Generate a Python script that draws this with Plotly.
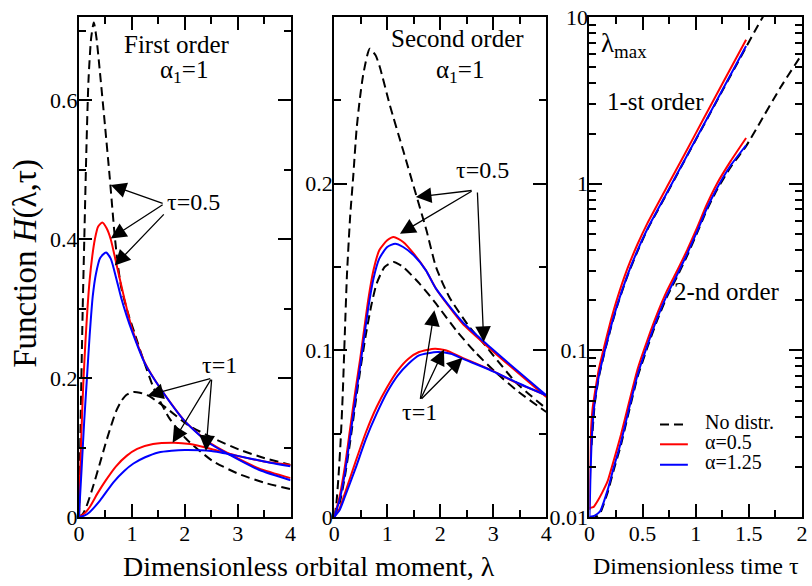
import plotly.graph_objects as go

SERIF = "Liberation Serif"
RED, BLUE, BLACK = "#ff0000", "#0000ff", "#000000"
DASH = "9px,5px"

# ---------------- Panel 1: first order, alpha_1 = 1 ----------------
p1_lam_nd05 = [0, 0.02, 0.04, 0.07, 0.10, 0.14, 0.18, 0.23, 0.28, 0.33, 0.39, 0.49, 0.58, 0.675, 0.74, 0.80,
               0.92, 1.05, 1.21, 1.41, 1.71, 2.02, 2.52, 3.02, 3.52, 4.0]
p1_H_nd05 = [0, 0.09, 0.18, 0.30, 0.40, 0.53, 0.63, 0.69, 0.712, 0.69, 0.645, 0.565, 0.49, 0.405, 0.36, 0.33,
             0.295, 0.265, 0.228, 0.186, 0.142, 0.113, 0.081, 0.062, 0.049, 0.040]
p1_lam_r05 = [0, 0.01, 0.02, 0.05, 0.08, 0.12, 0.16, 0.2, 0.25, 0.3, 0.36, 0.44, 0.52, 0.6, 0.72, 0.85, 1.0,
              1.24, 1.54, 2.0, 2.43, 2.86, 3.4, 4.0]
p1_H_r05 = [0, 0.035, 0.06, 0.13, 0.19, 0.25, 0.30, 0.34, 0.375, 0.40, 0.418, 0.424, 0.416, 0.40, 0.36, 0.317,
            0.272, 0.223, 0.185, 0.138, 0.109, 0.090, 0.070, 0.056]
p1_lam_b05 = [0, 0.02, 0.05, 0.1, 0.15, 0.2, 0.26, 0.32, 0.4, 0.51, 0.6, 0.7, 0.8, 0.9, 1.0, 1.24, 1.54, 2.0,
              2.43, 2.86, 3.4, 4.0]
p1_H_b05 = [0, 0.03, 0.07, 0.14, 0.20, 0.26, 0.318, 0.35, 0.373, 0.381, 0.372, 0.345, 0.315, 0.29, 0.268, 0.222,
            0.185, 0.138, 0.108, 0.089, 0.068, 0.053]
p1_lam_nd1 = [0, 0.07, 0.14, 0.25, 0.39, 0.5, 0.58, 0.7, 0.8, 0.9, 1.03, 1.15, 1.33, 1.5, 1.65, 2.05, 2.55,
              3.03, 3.5, 4.0]
p1_H_nd1 = [0, 0.004, 0.015, 0.04, 0.076, 0.105, 0.125, 0.152, 0.167, 0.176, 0.18, 0.179, 0.174, 0.165, 0.157,
            0.133, 0.113, 0.097, 0.085, 0.075]
p1_lam_r1 = [0, 0.1, 0.2, 0.35, 0.5, 0.7, 0.9, 1.1, 1.4, 1.8, 2.1, 2.5, 3.0, 3.5, 4.0]
p1_H_r1 = [0, 0.005, 0.014, 0.034, 0.052, 0.073, 0.088, 0.098, 0.105, 0.107, 0.105, 0.098, 0.088, 0.080, 0.075]
p1_lam_b1 = [0, 0.1, 0.2, 0.4, 0.65, 0.85, 1.03, 1.25, 1.5, 1.75, 2.0, 2.5, 3.0, 3.5, 4.0]
p1_H_b1 = [0, 0.002, 0.007, 0.024, 0.05, 0.066, 0.077, 0.086, 0.093, 0.0955, 0.0965, 0.095, 0.088, 0.080, 0.073]

# ---------------- Panel 2: second order, alpha_1 = 1 ----------------
p2_lam_nd05 = [0, 0.04, 0.08, 0.12, 0.16, 0.2, 0.24, 0.3, 0.36, 0.42, 0.48, 0.55, 0.67, 0.78, 0.86, 1.05, 1.3,
               1.52, 1.74, 1.92, 2.17, 2.55, 2.85, 3.0, 3.42, 4.0]
p2_H_nd05 = [0, 0.008, 0.024, 0.045, 0.073, 0.11, 0.145, 0.18, 0.205, 0.232, 0.25, 0.266, 0.281, 0.277, 0.27,
             0.247, 0.220, 0.196, 0.172, 0.150, 0.132, 0.114, 0.103, 0.097, 0.081, 0.065]
p2_lam_nd1 = [0, 0.1, 0.2, 0.3, 0.4, 0.5, 0.6, 0.7, 0.8, 0.95, 1.12, 1.3, 1.61, 1.92, 2.3, 2.67, 3.05, 3.48, 4.0]
p2_H_nd1 = [0, 0.008, 0.024, 0.045, 0.068, 0.09, 0.11, 0.127, 0.14, 0.15, 0.153, 0.15, 0.140, 0.128, 0.112,
            0.0985, 0.0867, 0.075, 0.063]
p2_lam_r05 = [0, 0.1, 0.2, 0.3, 0.4, 0.49, 0.64, 0.74, 0.85, 1.0, 1.12, 1.3, 1.5, 1.73, 1.92, 2.42, 2.83, 3.3, 4.0]
p2_H_r05 = [0, 0.012, 0.03, 0.053, 0.076, 0.095, 0.13, 0.148, 0.16, 0.166, 0.168, 0.165, 0.158, 0.148, 0.137,
            0.116, 0.104, 0.091, 0.072]
p2_lam_b05 = [0, 0.1, 0.2, 0.3, 0.4, 0.5, 0.64, 0.74, 0.85, 1.0, 1.15, 1.3, 1.5, 1.73, 1.92, 2.42, 2.83, 3.3, 4.0]
p2_H_b05 = [0, 0.01, 0.026, 0.048, 0.071, 0.093, 0.125, 0.143, 0.155, 0.162, 0.164, 0.162, 0.157, 0.148, 0.137,
            0.117, 0.105, 0.092, 0.073]
p2_lam_r1 = [0, 0.1, 0.2, 0.4, 0.6, 0.8, 1.0, 1.2, 1.4, 1.6, 1.9, 2.1, 2.42, 2.92, 3.42, 4.0]
p2_H_r1 = [0, 0.005, 0.014, 0.033, 0.051, 0.066, 0.078, 0.088, 0.095, 0.099, 0.101, 0.100, 0.0955, 0.0887,
           0.0808, 0.073]
p2_lam_b1 = [0, 0.1, 0.2, 0.4, 0.6, 0.8, 1.0, 1.2, 1.4, 1.6, 1.95, 2.2, 2.42, 2.92, 3.42, 4.0]
p2_H_b1 = [0, 0.004, 0.012, 0.029, 0.047, 0.062, 0.075, 0.085, 0.092, 0.097, 0.099, 0.098, 0.095, 0.0885,
           0.081, 0.073]

# ---------------- Panel 3: lambda_max versus time ----------------
r_tau_1st_r = [0, 0.005, 0.01, 0.016, 0.03, 0.047, 0.09, 0.14, 0.2, 0.265, 0.358, 0.45, 0.545, 0.732, 0.888,
               1.075, 1.262, 1.474]
r_lmax_1st_r = [0.011, 0.016, 0.024, 0.034, 0.045, 0.0535, 0.078, 0.106, 0.15, 0.208, 0.31, 0.43, 0.578, 0.964,
                1.47, 2.46, 4.1, 7.31]
r_tau_1st_b = [0, 0.005, 0.01, 0.02, 0.035, 0.05, 0.09, 0.14, 0.2, 0.265, 0.358, 0.45, 0.545, 0.732, 0.888,
               1.075, 1.262, 1.474]
r_lmax_1st_b = [0.010, 0.013, 0.018, 0.028, 0.040, 0.049, 0.071, 0.097, 0.137, 0.19, 0.283, 0.395, 0.535, 0.889,
                1.36, 2.26, 3.76, 6.69]
r_tau_1st_nd = [0.02, 0.05, 0.09, 0.14, 0.2, 0.265, 0.358, 0.45, 0.545, 0.732, 0.888, 1.075, 1.262, 1.474, 1.55,
                1.65]
r_lmax_1st_nd = [0.027, 0.048, 0.070, 0.096, 0.135, 0.188, 0.28, 0.39, 0.53, 0.88, 1.35, 2.24, 3.72, 6.6, 8.1,
                 10.5]
r_tau_2nd_r = [0, 0.04, 0.078, 0.12, 0.171, 0.23, 0.296, 0.37, 0.452, 0.545, 0.638, 0.73, 0.825, 0.92, 1.012,
               1.1, 1.2, 1.33, 1.474]
r_lmax_2nd_r = [0.0113, 0.0115, 0.0125, 0.014, 0.0164, 0.022, 0.031, 0.048, 0.0768, 0.115, 0.166, 0.228, 0.30,
                0.40, 0.543, 0.74, 1.0, 1.37, 1.88]
r_tau_2nd_b = [0, 0.05, 0.1, 0.171, 0.23, 0.296, 0.37, 0.452, 0.545, 0.638, 0.73, 0.825, 0.92, 1.012, 1.1, 1.2,
               1.33, 1.474]
r_lmax_2nd_b = [0.0100, 0.0102, 0.0108, 0.0145, 0.020, 0.028, 0.044, 0.071, 0.107, 0.156, 0.215, 0.284, 0.38,
                0.515, 0.70, 0.94, 1.29, 1.70]
r_tau_2nd_nd = [0, 0.05, 0.1, 0.171, 0.23, 0.296, 0.37, 0.452, 0.545, 0.638, 0.73, 0.825, 0.92, 1.012, 1.1, 1.2,
                1.33, 1.474, 1.6, 1.8, 2.0]
r_lmax_2nd_nd = [0.0098, 0.0099, 0.0105, 0.014, 0.0193, 0.027, 0.0425, 0.069, 0.104, 0.152, 0.21, 0.277, 0.37,
                 0.505, 0.685, 0.92, 1.26, 1.68, 2.3, 3.8, 6.0]

# tick labels
p1_yticks = [0, 0.2, 0.4, 0.6]
p1_ytext = ["0", "0.2", "0.4", "0.6"]
p2_yticks = [0, 0.1, 0.2]
p2_ytext = ["0", "0.1", "0.2"]
lam_ticks = [0, 1, 2, 3, 4]
tau_ticks = [0, 0.5, 1, 1.5, 2]
tau_text = ["0", "0.5", "1", "1.5", "2"]
lmax_ticks = [0.01, 0.1, 1, 10]
lmax_text = ["0.01", "0.1", "1", "10"]
lmax_minor = [m * 10.0 ** e for e in (-2, -1, 0) for m in range(2, 10)]
legend_labels = ["No distr.", "α=0.5", "α=1.25"]

fig = go.Figure()


def add(x, y, color, dash, xa, ya, smooth=0.6):
    fig.add_trace(go.Scatter(x=x, y=y, mode="lines", xaxis=xa, yaxis=ya, showlegend=False, hoverinfo="skip",
                             line=dict(color=color, width=2, dash=dash, shape="spline", smoothing=smooth)))


add(p1_lam_nd05, p1_H_nd05, BLACK, DASH, "x", "y")
add(p1_lam_nd1, p1_H_nd1, BLACK, DASH, "x", "y")
add(p1_lam_r05, p1_H_r05, RED, "solid", "x", "y")
add(p1_lam_r1, p1_H_r1, RED, "solid", "x", "y")
add(p1_lam_b05, p1_H_b05, BLUE, "solid", "x", "y")
add(p1_lam_b1, p1_H_b1, BLUE, "solid", "x", "y")

add(p2_lam_nd05, p2_H_nd05, BLACK, DASH, "x2", "y2")
add(p2_lam_nd1, p2_H_nd1, BLACK, DASH, "x2", "y2")
add(p2_lam_r05, p2_H_r05, RED, "solid", "x2", "y2")
add(p2_lam_r1, p2_H_r1, RED, "solid", "x2", "y2")
add(p2_lam_b05, p2_H_b05, BLUE, "solid", "x2", "y2")
add(p2_lam_b1, p2_H_b1, BLUE, "solid", "x2", "y2")

add(r_tau_1st_nd, r_lmax_1st_nd, BLACK, DASH, "x3", "y3", 0.4)
add(r_tau_2nd_nd, r_lmax_2nd_nd, BLACK, DASH, "x3", "y3", 0.4)
add(r_tau_1st_r, r_lmax_1st_r, RED, "solid", "x3", "y3", 0.4)
add(r_tau_2nd_r, r_lmax_2nd_r, RED, "solid", "x3", "y3", 0.4)
add(r_tau_1st_b, r_lmax_1st_b, BLUE, "solid", "x3", "y3", 0.4)
add(r_tau_2nd_b, r_lmax_2nd_b, BLUE, "solid", "x3", "y3", 0.4)

TF = dict(family=SERIF, size=22, color=BLACK)
common = dict(showline=True, linecolor=BLACK, linewidth=2, mirror="ticks", ticks="inside", ticklen=13,
              tickwidth=1.5, tickcolor=BLACK, showgrid=False, zeroline=False, tickfont=TF,
              ticklabeloverflow="allow")


def minor(**kw):
    d = dict(ticks="inside", ticklen=7, tickwidth=1.5, tickcolor=BLACK, showgrid=False)
    d.update(kw)
    return d


fig.update_layout(
    width=812, height=586, margin=dict(l=79, r=5, t=10, b=69),
    paper_bgcolor="white", plot_bgcolor="white", showlegend=False,
    font=dict(family=SERIF, color=BLACK),
    xaxis=dict(domain=[0, 0.2926], range=[0, 4], anchor="y", tickmode="array", tickvals=lam_ticks,
               minor=minor(dtick=0.5), ticklabelstandoff=-4, **common),
    yaxis=dict(domain=[0, 1], range=[0, 0.72], anchor="x", tickmode="array", tickvals=p1_yticks,
               ticktext=p1_ytext, minor=minor(dtick=0.1), ticklabelstandoff=-5, **common),
    xaxis2=dict(domain=[0.353, 0.6463], range=[0, 4], anchor="y2", tickmode="array", tickvals=lam_ticks,
                minor=minor(dtick=0.5), ticklabelstandoff=-4, **common),
    yaxis2=dict(domain=[0, 1], range=[0, 0.3], anchor="x2", tickmode="array", tickvals=p2_yticks,
                ticktext=p2_ytext, minor=minor(dtick=0.05), ticklabelstandoff=-5, **common),
    xaxis3=dict(domain=[0.706, 1], range=[0, 2], anchor="y3", tickmode="array", tickvals=tau_ticks,
                ticktext=tau_text, minor=minor(dtick=0.25), ticklabelstandoff=-4, **common),
    yaxis3=dict(domain=[0, 1], type="log", range=[-2, 1], anchor="x3", tickmode="array", tickvals=lmax_ticks,
                ticktext=lmax_text, minor=minor(tickmode="array", tickvals=lmax_minor), ticklabelstandoff=-5,
                **common),
)

ann = []


def text(x, y, t, size, xref, yref, xanchor="center", yanchor="middle", **kw):
    ann.append(dict(x=x, y=y, text=t, xref=xref, yref=yref, showarrow=False, xanchor=xanchor, yanchor=yanchor,
                    font=dict(family=SERIF, size=size, color=BLACK), **kw))


def arrow(x, y, ax, ay, xref, yref):
    ann.append(dict(x=x, y=y, ax=ax, ay=ay, xref=xref, yref=yref, axref=xref, ayref=yref, text="",
                    showarrow=True, arrowhead=2, arrowsize=2.4, arrowwidth=1.3, arrowcolor=BLACK, standoff=0,
                    startstandoff=0))


# panel 1 labels
text(1.857, 0.681, "First order", 25, "x", "y")
text(1.99, 0.641, "α<sub>1</sub>=1", 25, "x", "y")
text(2.16, 0.453, "τ=0.5", 24, "x", "y")
arrow(0.60, 0.478, 1.61, 0.451, "x", "y")
arrow(0.60, 0.401, 1.61, 0.451, "x", "y")
arrow(0.675, 0.362, 1.63, 0.438, "x", "y")
text(2.65, 0.219, "τ=1", 24, "x", "y")
arrow(1.30, 0.175, 2.51, 0.200, "x", "y")
arrow(1.77, 0.107, 2.51, 0.200, "x", "y")
arrow(2.40, 0.095, 2.51, 0.200, "x", "y")

# panel 2 labels
text(2.32, 0.287, "Second order", 25, "x2", "y2")
text(2.38, 0.2675, "α<sub>1</sub>=1", 25, "x2", "y2")
text(2.79, 0.208, "τ=0.5", 24, "x2", "y2")
arrow(1.54, 0.192, 2.62, 0.196, "x2", "y2")
arrow(1.24, 0.170, 2.62, 0.196, "x2", "y2")
arrow(2.82, 0.105, 2.70, 0.1956, "x2", "y2")
text(1.61, 0.063, "τ=1", 24, "x2", "y2")
arrow(1.89, 0.124, 1.62, 0.070, "x2", "y2")
arrow(2.07, 0.1005, 1.62, 0.070, "x2", "y2")
arrow(2.42, 0.0956, 1.62, 0.070, "x2", "y2")

# panel 3 labels
text(0.093, 0.835, "λ<sub>max</sub>", 27, "x3", "y3", xanchor="left")
text(0.617, 0.495, "1-st order", 25, "x3", "y3")
text(1.29, -0.648, "2-nd order", 25, "x3", "y3")

# axis titles
text(0.3187, -0.0986, "Dimensionless orbital moment, λ", 28, "paper", "paper")
text(0.853, -0.0986, "Dimensionless time τ", 24, "paper", "paper")
text(-0.0742, 0.507, "Function <i>H</i>(λ,τ)", 33, "paper", "paper", textangle=-90)

# manual legend in panel 3
leg_rows = [0.1848, 0.1454, 0.1045]
leg_colors = [BLACK, RED, BLUE]
leg_dash = [DASH, "solid", "solid"]
shapes = []
for yy, lab, col, ds in zip(leg_rows, legend_labels, leg_colors, leg_dash):
    shapes.append(dict(type="line", xref="x3 domain", yref="y3 domain", x0=0.332, x1=0.463, y0=yy, y1=yy,
                       line=dict(color=col, width=2, dash=ds)))
    text(0.533, yy + 0.005, lab, 20, "x3 domain", "y3 domain", xanchor="left")

fig.update_layout(annotations=ann, shapes=shapes)
fig.write_html("out.html", config={"displayModeBar": False},
               post_script="document.body.style.margin='0';document.body.style.padding='0';")
